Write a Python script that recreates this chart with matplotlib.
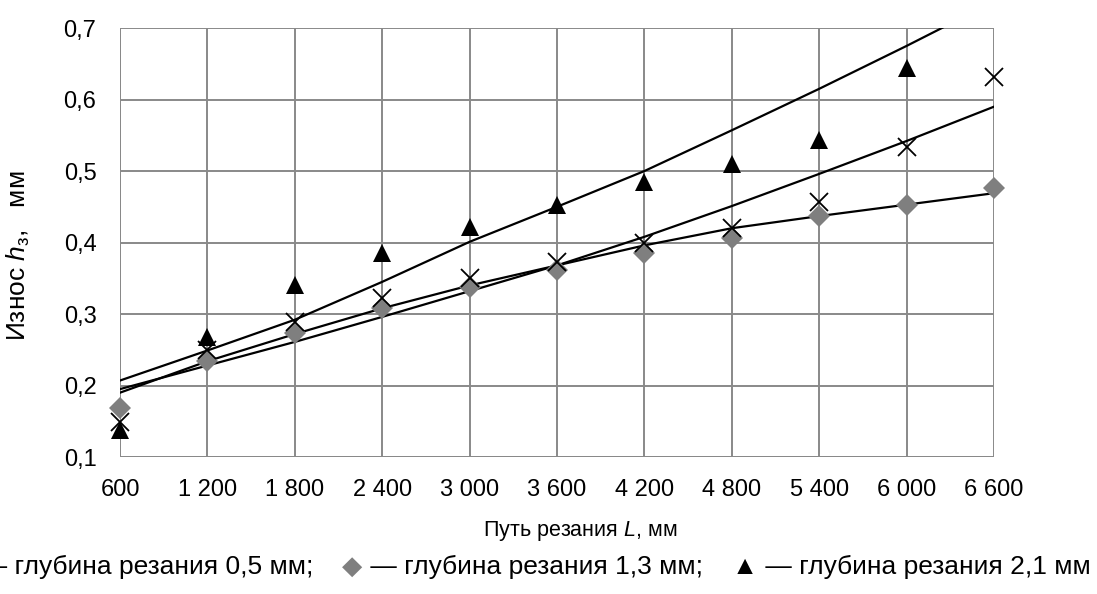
import matplotlib.pyplot as plt
import numpy as np

plt.rcParams['font.family'] = ['Liberation Sans', 'DejaVu Sans']
plt.rcParams['mathtext.fontset'] = 'custom'
plt.rcParams['mathtext.rm'] = 'Liberation Sans'
plt.rcParams['mathtext.it'] = 'Liberation Sans:italic'

# Путь резания, мм
L = [600, 1200, 1800, 2400, 3000, 3600, 4200, 4800, 5400, 6000, 6600]
x_labels = ["600", "1 200", "1 800", "2 400", "3 000", "3 600", "4 200",
            "4 800", "5 400", "6 000", "6 600"]

# Износ, мм (точки)
h_05 = [0.149, 0.249, 0.289, 0.322, 0.350, 0.373, 0.399, 0.421, 0.457, 0.534, 0.632]
h_13 = [0.169, 0.234, 0.273, 0.308, 0.338, 0.362, 0.386, 0.407, 0.437, 0.452, 0.476]
h_21 = [0.138, 0.268, 0.341, 0.385, 0.422, 0.452, 0.484, 0.510, 0.544, 0.644]

# Линии тренда (значения)
tr_05 = [0.195, 0.228, 0.261, 0.296, 0.332, 0.368, 0.408, 0.451, 0.496, 0.542, 0.590]
tr_13 = [0.190, 0.234, 0.272, 0.308, 0.340, 0.368, 0.396, 0.420, 0.437, 0.453, 0.469]
tr_21 = [0.207, 0.249, 0.292, 0.345, 0.401, 0.450, 0.500, 0.557, 0.615, 0.675, 0.737]

y_ticks = [0.1, 0.2, 0.3, 0.4, 0.5, 0.6, 0.7]

fig = plt.figure(figsize=(10.97, 5.94), dpi=100)
ax = fig.add_axes([0.1094, 0.2306, 0.7967, 0.7222])

grid_col = "#898989"

# линии тренда
ax.plot(L, tr_05, color="black", lw=1.6, zorder=3)
ax.plot(L, tr_13, color="black", lw=1.6, zorder=3)
ax.plot(L, tr_21, color="black", lw=1.6, zorder=3)

# точки
ax.plot(L, h_13, linestyle="none", marker="D", markersize=11, color="#7f7f7f",
        markeredgewidth=0, clip_on=False, zorder=4)
ax.plot(L, h_05, linestyle="none", marker="x", markersize=13, color="black",
        markeredgewidth=1.3, clip_on=False, zorder=5)
ax.plot(L[:len(h_21)], h_21, linestyle="none", marker="^", markersize=13,
        color="black", markeredgewidth=0, clip_on=False, zorder=5)

ax.set_xlim(600, 6600)
ax.set_ylim(0.1, 0.7)
ax.set_xticks(L)
ax.set_xticklabels(x_labels)
ax.set_yticks(y_ticks)
ax.set_yticklabels([f"{v:.1f}".replace(".", ",") for v in y_ticks])
ax.tick_params(length=0, labelsize=17)
ax.tick_params(axis="x", pad=16)
ax.tick_params(axis="y", pad=17)
ax.grid(True, color=grid_col, lw=1.4)
ax.set_axisbelow(True)
for s in ax.spines.values():
    s.set_visible(False)
ax.axvline(600, color=grid_col, lw=1.4, zorder=1)
ax.axhline(0.1, color=grid_col, lw=1.4, zorder=1)

ax.set_xlabel(r"Путь резания $\mathit{L}$, мм", fontsize=15.5)
ax.xaxis.set_label_coords(0.526, -0.145)
ax.set_ylabel(r"Износ $\mathit{h}_{\mathrm{з}}$,   мм", fontsize=19)
ax.yaxis.set_label_coords(-0.101, 0.47)

# подпись-легенда снизу (раскладка справа налево)
ly = 1 - 567 / 594
fs = 19
pieces = [(" — глубина резания 2,1 мм", "black"),
          ("▲", "black"),
          (" — глубина резания 1,3 мм;    ", "black"),
          ("◆", "#7f7f7f"),
          ("× — глубина резания 0,5 мм;    ", "black")]
renderer = fig.canvas.get_renderer()
xr = 1091
for txt, col in pieces:
    t = fig.text(xr / 1097, ly, txt, color=col, fontsize=fs, ha="right", va="center")
    xr -= t.get_window_extent(renderer=renderer).width

fig.savefig("out.png", dpi=100)
